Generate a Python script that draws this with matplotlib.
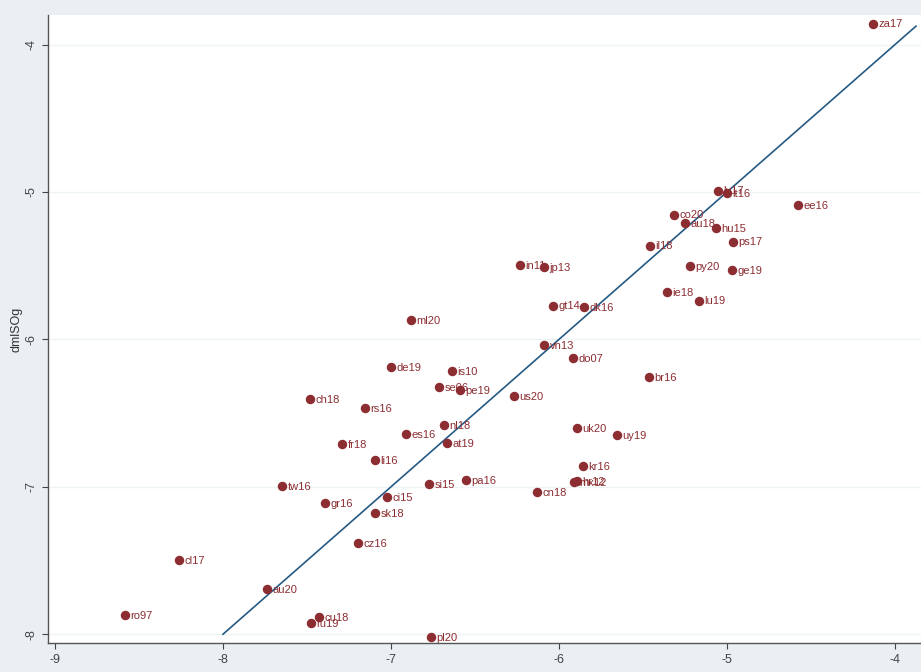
import matplotlib.pyplot as plt

# === data ===
labels = ["za17", "lv17", "lt16", "ee16", "co20", "au18", "hu15", "ps17", "il18",
          "in11", "jp13", "py20", "ge19", "ie18", "lu19", "gt14", "dk16", "ml20",
          "vn13", "do07", "de19", "is10", "se06", "pe19", "us20", "br16", "ch18",
          "rs16", "nl18", "es16", "at19", "fr18", "uk20", "uy19", "li16", "kr16",
          "mx12", "hr12", "tw16", "si15", "pa16", "cn18", "gr16", "ci15", "sk18",
          "cz16", "cl17", "au20", "ro97", "cu18", "ru19", "pl20"]
x_vals = [-4.131, -5.054, -5.000, -4.577, -5.315, -5.250, -5.065, -4.964, -5.458,
          -6.232, -6.089, -5.220, -4.970, -5.357, -5.167, -6.036, -5.851, -6.881,
          -6.089, -5.917, -7.000, -6.637, -6.714, -6.589, -6.268, -5.464, -7.482,
          -7.155, -6.685, -6.911, -6.667, -7.292, -5.893, -5.655, -7.095, -5.857,
          -5.911, -5.893, -7.649, -6.774, -6.554, -6.131, -7.393, -7.024, -7.095,
          -7.196, -8.262, -7.738, -8.583, -7.429, -7.476, -6.762]
y_vals = [-3.858, -4.990, -5.010, -5.090, -5.153, -5.210, -5.247, -5.336, -5.363,
          -5.498, -5.512, -5.505, -5.532, -5.681, -5.736, -5.770, -5.783, -5.871,
          -6.041, -6.129, -6.190, -6.217, -6.325, -6.346, -6.386, -6.258, -6.407,
          -6.468, -6.583, -6.644, -6.705, -6.712, -6.603, -6.651, -6.820, -6.861,
          -6.970, -6.963, -6.997, -6.983, -6.956, -7.037, -7.112, -7.071, -7.180,
          -7.383, -7.498, -7.695, -7.871, -7.885, -7.925, -8.020]
fit_x = [-8.0, -3.875]
fit_y = [-8.0, -3.875]

x_ticks = [-9, -8, -7, -6, -5, -4]
y_ticks = [-8, -7, -6, -5, -4]

# === colours ===
BG = "#e9eff2"
MAROON = "#8c2d32"
NAVY = "#255a84"

plt.rcParams['font.family'] = ['Liberation Sans', 'DejaVu Sans']

fig = plt.figure(figsize=(9.21, 6.72), dpi=100, facecolor=BG)
ax = fig.add_axes([0.052, 0.043, 0.948, 0.9345])
ax.set_facecolor("white")

for yt in y_ticks:
    ax.axhline(yt, color="#eef4f4", lw=1.0, zorder=0)

ax.plot(fit_x, fit_y, color=NAVY, lw=1.2, zorder=2)
ax.plot(x_vals, y_vals, "o", color=MAROON, ms=5.8, zorder=3)
for lab, xv, yv in zip(labels, x_vals, y_vals):
    ax.annotate(lab, (xv, yv), xytext=(4, -0.5), textcoords="offset points",
                va="center", ha="left", fontsize=8, color=MAROON, zorder=4)

ax.set_xlim(-9.042, -3.845)
ax.set_ylim(-8.06, -3.80)
ax.set_xticks(x_ticks)
ax.set_yticks(y_ticks)
ax.set_xticklabels([str(t) for t in x_ticks])
ax.set_yticklabels([str(t) for t in y_ticks], rotation=90, va="center")
ax.tick_params(colors="#444444", labelsize=9, length=4, width=0.8)
ax.set_ylabel("dmlSOg", fontsize=9, color="#333333", labelpad=2)

for side in ["top", "right"]:
    ax.spines[side].set_visible(False)
for side in ["left", "bottom"]:
    ax.spines[side].set_color("#555555")
    ax.spines[side].set_linewidth(1.0)

fig.savefig("out.png", dpi=100, facecolor=BG)
